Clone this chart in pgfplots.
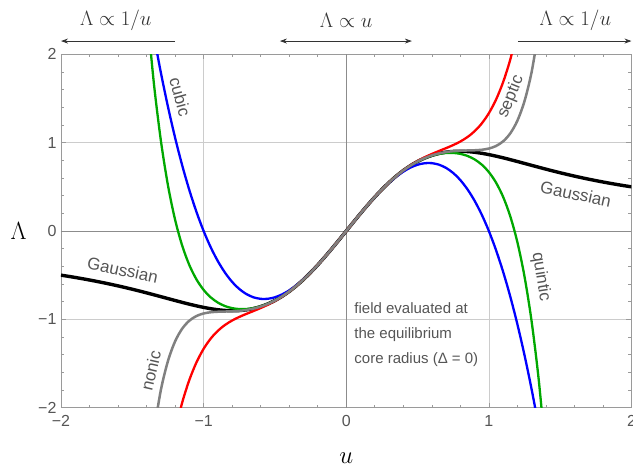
\documentclass[border=0pt]{standalone}
\usepackage{fontspec}
\setmainfont{Liberation Sans}
\usepackage{pgfplots}
\pgfplotsset{compat=1.18}
\usetikzlibrary{arrows.meta}
\definecolor{txt}{HTML}{555555}
\definecolor{frame}{HTML}{9A9A9A}
\definecolor{gridc}{HTML}{CCCCCC}
\definecolor{zeroc}{HTML}{8C8C8C}
\definecolor{mgreen}{rgb}{0,0.66,0}
\definecolor{mgray}{rgb}{0.5,0.5,0.5}
\definecolor{arr}{HTML}{333333}
\tikzset{curvelabel/.style={text=txt, font=\fontsize{17}{19}\selectfont}}
\begin{document}
\begin{tikzpicture}
\begin{axis}[
  at={(0,0)}, anchor=south west,
  scale only axis, width=570.5pt, height=353.4pt,
  xmin=-2, xmax=2, ymin=-2, ymax=2,
  xtick={-2,-1,0,1,2}, ytick={-2,-1,0,1,2},
  xticklabels={−2,−1,0,1,2}, yticklabels={−2,−1,0,1,2},
  minor x tick num=4, minor y tick num=4,
  tick align=inside, major tick length=5pt, minor tick length=3pt,
  every tick/.style={color=frame, line width=0.6pt},
  axis line style={color=frame, line width=0.8pt},
  grid=major, major grid style={color=gridc, line width=0.7pt},
  ticklabel style={font=\fontsize{16}{18}\selectfont, text=txt},
  xticklabel style={yshift=-4pt},
  yticklabel style={xshift=-1pt},
  xlabel={$u$}, ylabel={$\Lambda$},
  xlabel style={font=\fontsize{32}{36}\selectfont, at={(axis description cs:0.5,0)}, anchor=center, yshift=-50pt},
  ylabel style={font=\fontsize{31}{36}\selectfont, rotate=-90, at={(axis description cs:0,0.5)}, anchor=center, xshift=0pt, yshift=0pt},
  every axis y label/.append style={at={(axis description cs:0,0.5)}, xshift=-42.5pt},
]
\draw[zeroc, line width=0.7pt] (axis cs:0,-2) -- (axis cs:0,2);
\draw[zeroc, line width=0.7pt] (axis cs:-2,0) -- (axis cs:2,0);

% Gaussian
\addplot[black, line width=3.4pt, smooth] coordinates {
(-2.0,-0.49983) (-1.95,-0.51257) (-1.9,-0.52593) (-1.85,-0.53996) (-1.8,-0.55470)
(-1.75,-0.57018) (-1.7,-0.58642) (-1.65,-0.60344) (-1.6,-0.62126) (-1.55,-0.63988)
(-1.5,-0.65926) (-1.45,-0.67937) (-1.4,-0.70011) (-1.35,-0.72139) (-1.3,-0.74304)
(-1.25,-0.76485) (-1.2,-0.78655) (-1.15,-0.80782) (-1.1,-0.82825) (-1.05,-0.84738)
(-1.0,-0.86467) (-0.95,-0.87950) (-0.9,-0.89122) (-0.85,-0.89912) (-0.8,-0.90245)
(-0.75,-0.90046) (-0.7,-0.89241) (-0.65,-0.87760) (-0.6,-0.85541) (-0.55,-0.82532)
(-0.5,-0.78694) (-0.45,-0.74005) (-0.4,-0.68463) (-0.35,-0.62084) (-0.3,-0.54910)
(-0.25,-0.47001) (-0.2,-0.38442) (-0.15,-0.29335) (-0.1,-0.19801) (-0.05,-0.09975)
(0,0)
(0.05,0.09975) (0.1,0.19801) (0.15,0.29335) (0.2,0.38442) (0.25,0.47001)
(0.3,0.54910) (0.35,0.62084) (0.4,0.68463) (0.45,0.74005) (0.5,0.78694)
(0.55,0.82532) (0.6,0.85541) (0.65,0.87760) (0.7,0.89241) (0.75,0.90046)
(0.8,0.90245) (0.85,0.89912) (0.9,0.89122) (0.95,0.87950) (1.0,0.86467)
(1.05,0.84738) (1.1,0.82825) (1.15,0.80782) (1.2,0.78655) (1.25,0.76485)
(1.3,0.74304) (1.35,0.72139) (1.4,0.70011) (1.45,0.67937) (1.5,0.65926)
(1.55,0.63988) (1.6,0.62126) (1.65,0.60344) (1.7,0.58642) (1.75,0.57018)
(1.8,0.55470) (1.85,0.53996) (1.9,0.52593) (1.95,0.51257) (2.0,0.49983)
};

% cubic
\addplot[blue, line width=2.3pt, smooth] coordinates {
(-1.35,2.22075) (-1.3,1.794) (-1.25,1.40625) (-1.2,1.056) (-1.15,0.74175)
(-1.1,0.462) (-1.05,0.21525) (-1.0,0) (-0.95,-0.18525) (-0.9,-0.342)
(-0.85,-0.47175) (-0.8,-0.576) (-0.75,-0.65625) (-0.7,-0.714) (-0.65,-0.75075)
(-0.6,-0.768) (-0.55,-0.76725) (-0.5,-0.75) (-0.45,-0.71775) (-0.4,-0.672)
(-0.35,-0.61425) (-0.3,-0.546) (-0.25,-0.46875) (-0.2,-0.384) (-0.15,-0.29325)
(-0.1,-0.198) (-0.05,-0.09975) (0,0)
(0.05,0.09975) (0.1,0.198) (0.15,0.29325) (0.2,0.384) (0.25,0.46875)
(0.3,0.546) (0.35,0.61425) (0.4,0.672) (0.45,0.71775) (0.5,0.75)
(0.55,0.76725) (0.6,0.768) (0.65,0.75075) (0.7,0.714) (0.75,0.65625)
(0.8,0.576) (0.85,0.47175) (0.9,0.342) (0.95,0.18525) (1.0,0)
(1.05,-0.21525) (1.1,-0.462) (1.15,-0.74175) (1.2,-1.056) (1.25,-1.40625)
(1.3,-1.794) (1.35,-2.22075)
};

% quintic (green)
\addplot[mgreen, line width=2.3pt, smooth] coordinates {
(-1.4,2.54458) (-1.35,1.69014) (-1.3,1.02666) (-1.25,0.51615) (-1.2,0.12703)
(-1.15,-0.16671) (-1.1,-0.38620) (-1.05,-0.54839) (-1.0,-0.66667) (-0.95,-0.75140)
(-0.9,-0.81046) (-0.85,-0.84964) (-0.8,-0.87310) (-0.75,-0.88367) (-0.7,-0.88319)
(-0.65,-0.87277) (-0.6,-0.85302) (-0.55,-0.82421) (-0.5,-0.78646) (-0.45,-0.73986)
(-0.4,-0.68456) (-0.35,-0.62082) (-0.3,-0.54909) (-0.25,-0.47001) (-0.2,-0.38442)
(-0.15,-0.29335) (-0.1,-0.19801) (-0.05,-0.09975) (0,0)
(0.05,0.09975) (0.1,0.19801) (0.15,0.29335) (0.2,0.38442) (0.25,0.47001)
(0.3,0.54909) (0.35,0.62082) (0.4,0.68456) (0.45,0.73986) (0.5,0.78646)
(0.55,0.82421) (0.6,0.85302) (0.65,0.87277) (0.7,0.88319) (0.75,0.88367)
(0.8,0.87310) (0.85,0.84964) (0.9,0.81046) (0.95,0.75140) (1.0,0.66667)
(1.05,0.54839) (1.1,0.38620) (1.15,0.16671) (1.2,-0.12703) (1.25,-0.51615)
(1.3,-1.02666) (1.35,-1.69014) (1.4,-2.54458)
};

% red
\addplot[red, line width=2.3pt, smooth] coordinates {
(-1.2,-2.26176) (-1.15,-1.94006) (-1.1,-1.68535) (-1.05,-1.48646) (-1.0,-1.33333)
(-0.95,-1.21696) (-0.9,-1.12932) (-0.85,-1.06336) (-0.8,-1.01291) (-0.75,-0.97266)
(-0.7,-0.93809) (-0.65,-0.90546) (-0.6,-0.87168) (-0.55,-0.83435) (-0.5,-0.79167)
(-0.45,-0.74235) (-0.4,-0.68565) (-0.35,-0.62125) (-0.3,-0.54924) (-0.25,-0.47005)
(-0.2,-0.38443) (-0.15,-0.29335) (-0.1,-0.19801) (-0.05,-0.09975) (0,0)
(0.05,0.09975) (0.1,0.19801) (0.15,0.29335) (0.2,0.38443) (0.25,0.47005)
(0.3,0.54924) (0.35,0.62125) (0.4,0.68565) (0.45,0.74235) (0.5,0.79167)
(0.55,0.83435) (0.6,0.87168) (0.65,0.90546) (0.7,0.93809) (0.75,0.97266)
(0.8,1.01291) (0.85,1.06336) (0.9,1.12932) (0.95,1.21696) (1.0,1.33333)
(1.05,1.48646) (1.1,1.68535) (1.15,1.94006) (1.2,2.26176)
};

% gray
\addplot[mgray, line width=2.5pt, smooth] coordinates {
(-1.35,-2.28153) (-1.3,-1.80121) (-1.25,-1.47067) (-1.2,-1.24891) (-1.15,-1.10481)
(-1.1,-1.01499) (-1.05,-0.96208) (-1.0,-0.93333) (-0.95,-0.91947) (-0.9,-0.91377)
(-0.85,-0.91141) (-0.8,-0.90889) (-0.75,-0.90369) (-0.7,-0.89395) (-0.65,-0.87830)
(-0.6,-0.85570) (-0.55,-0.82543) (-0.5,-0.78698) (-0.45,-0.74006) (-0.4,-0.68463)
(-0.35,-0.62084) (-0.3,-0.54910) (-0.25,-0.47001) (-0.2,-0.38442) (-0.15,-0.29335)
(-0.1,-0.19801) (-0.05,-0.09975) (0,0)
(0.05,0.09975) (0.1,0.19801) (0.15,0.29335) (0.2,0.38442) (0.25,0.47001)
(0.3,0.54910) (0.35,0.62084) (0.4,0.68463) (0.45,0.74006) (0.5,0.78698)
(0.55,0.82543) (0.6,0.85570) (0.65,0.87830) (0.7,0.89395) (0.75,0.90369)
(0.8,0.90889) (0.85,0.91141) (0.9,0.91377) (0.95,0.91947) (1.0,0.93333)
(1.05,0.96208) (1.1,1.01499) (1.15,1.10481) (1.2,1.24891) (1.25,1.47067)
(1.3,1.80121) (1.35,2.28153)
};

% curve labels
\node[curvelabel, rotate=-12] at (axis cs:1.61,0.42) {Gaussian};
\node[curvelabel, rotate=-12] at (axis cs:-1.567,-0.44) {Gaussian};
\node[curvelabel, rotate=-75] at (axis cs:-1.164,1.52) {cubic};
\node[curvelabel, rotate=68] at (axis cs:1.155,1.52) {septic};
\node[curvelabel, rotate=-81] at (axis cs:1.365,-0.52) {quintic};
\node[curvelabel, rotate=77] at (axis cs:-1.37,-1.58) {nonic};
\node[text=txt, align=left, anchor=west, inner sep=0pt,
      font=\fontsize{15}{25}\selectfont] at (axis cs:0.056,-1.175)
  {field evaluated at\\the equilibrium\\core radius (Δ = 0)};

% coordinates for annotations above the axis
\coordinate (L1) at (axis cs:-2,2.15);
\coordinate (L2) at (axis cs:-1.2,2.15);
\coordinate (M1) at (axis cs:-0.465,2.15);
\coordinate (M2) at (axis cs:0.46,2.15);
\coordinate (R1) at (axis cs:1.203,2.15);
\coordinate (R2) at (axis cs:2.0,2.15);
\coordinate (TL) at (axis cs:-1.616,2.388);
\coordinate (TM) at (axis cs:0,2.388);
\coordinate (TR) at (axis cs:1.606,2.388);
\end{axis}
\draw[arr, line width=0.8pt, -{Stealth[length=7pt,width=5pt]}] (L2) -- (L1);
\draw[arr, line width=0.8pt, {Stealth[length=7pt,width=5pt]}-{Stealth[length=7pt,width=5pt]}] (M1) -- (M2);
\draw[arr, line width=0.8pt, -{Stealth[length=7pt,width=5pt]}] (R1) -- (R2);
\node[text=arr, font=\fontsize{20}{24}\selectfont] at (TL) {$\Lambda \propto 1/u$};
\node[text=arr, font=\fontsize{20}{24}\selectfont] at (TM) {$\Lambda \propto u$};
\node[text=arr, font=\fontsize{20}{24}\selectfont] at (TR) {$\Lambda \propto 1/u$};
\pgfresetboundingbox
\path[use as bounding box] (-61pt,-59.3pt) rectangle (572pt,407.7pt);
\end{tikzpicture}
\end{document}
